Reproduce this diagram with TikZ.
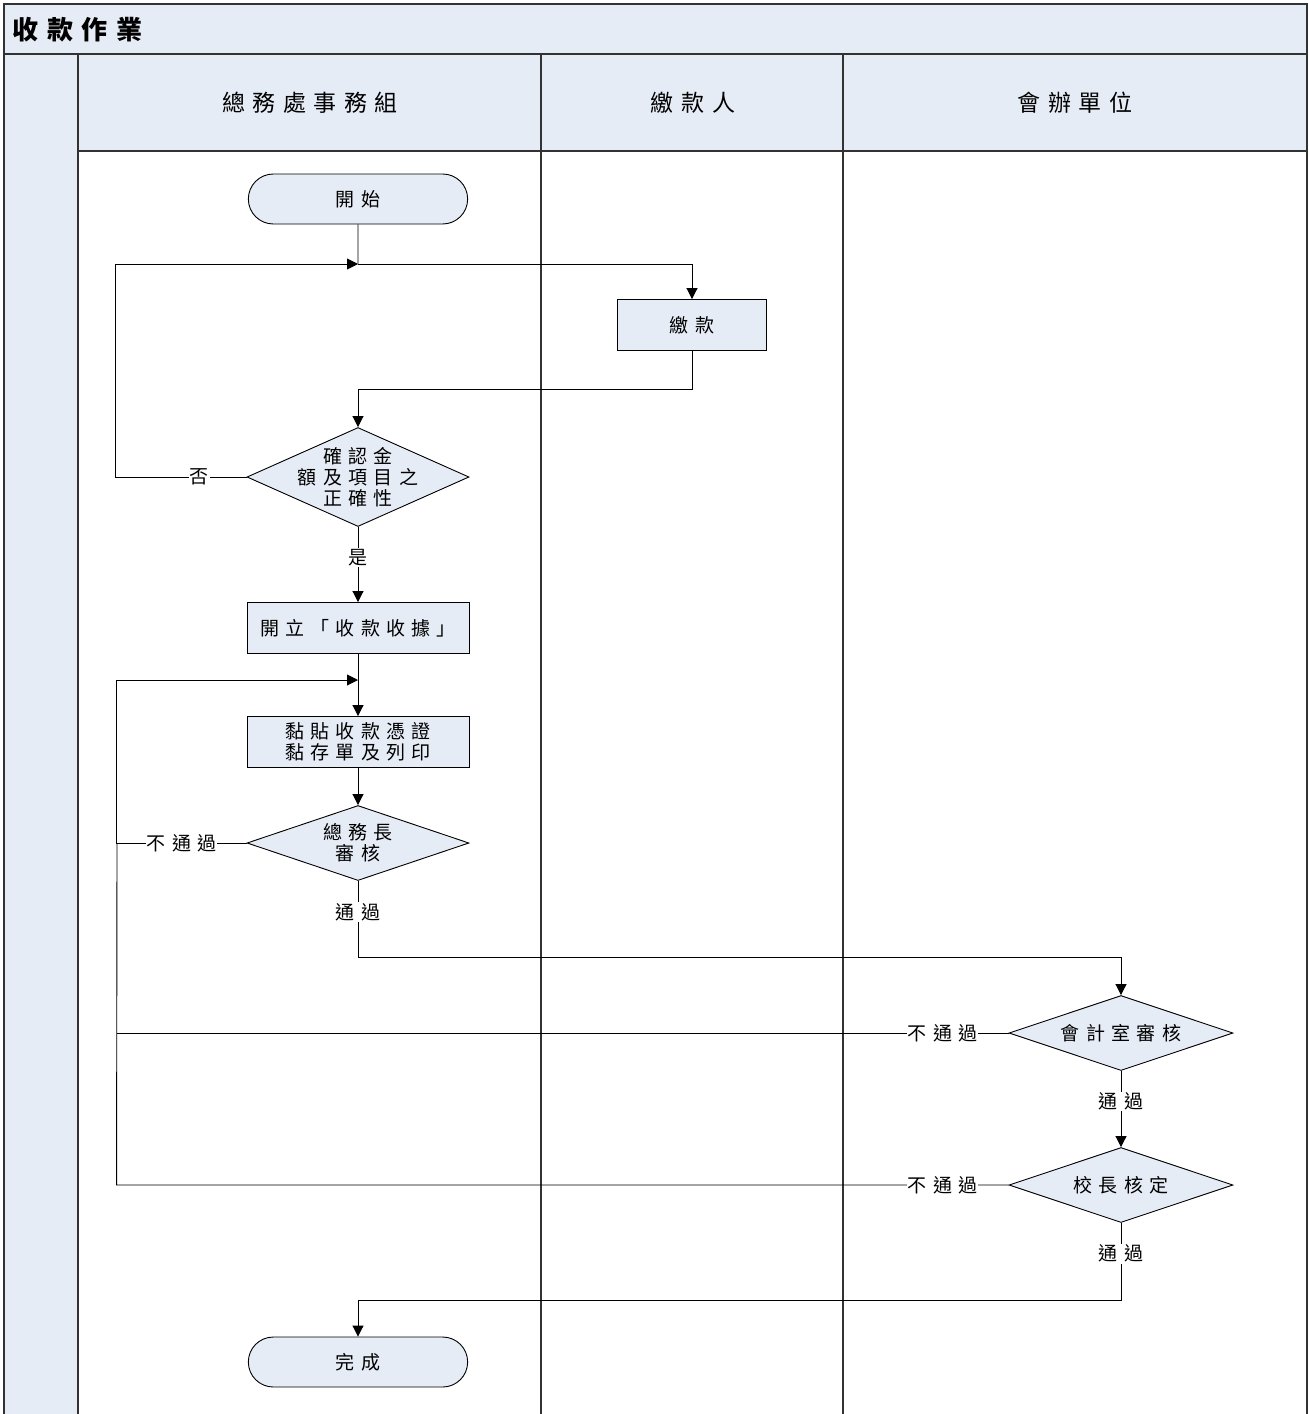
\documentclass[tikz,border=0pt]{standalone}
\usepackage{fontspec}
\setmainfont{Noto Sans CJK TC}
\newfontfamily\cjk[LetterSpace=33]{Noto Sans CJK TC}
\usetikzlibrary{shapes.geometric,shapes.misc,arrows.meta,positioning}

\definecolor{lanefill}{RGB}{230,236,246}
\definecolor{framecol}{RGB}{50,50,50}

\tikzset{
  frame/.style={draw=framecol, line width=1.2pt},
  nodefont/.style={font={\cjk\fontsize{19}{21}\selectfont}},
  lanehead/.style={font={\cjk\fontsize{23}{25}\selectfont}},
  titlefont/.style={font={\cjk\bfseries\fontsize{26}{28}\selectfont}},
  term/.style={rounded rectangle, draw, fill=lanefill, minimum width=226pt, minimum height=50pt, nodefont},
  procbox/.style={rectangle, draw, fill=lanefill, minimum width=222pt, minimum height=51pt, inner sep=2pt, align=center, nodefont},
  decision/.style={diamond, draw, fill=lanefill, minimum width=222pt, minimum height=99pt, inner sep=0pt},
  inside/.style={nodefont, align=center},
  lbl/.style={fill=white, inner sep=1pt, nodefont},
  flow/.style={-{Triangle[length=11pt,width=11pt]}},
}

\begin{document}
\begin{tikzpicture}[x=1pt,y=-1pt, line width=0.9pt]
\useasboundingbox (0,0) rectangle (1309,1414);

% Pool and lanes
\fill[lanefill] (4,4) rectangle (1307,54);
\fill[lanefill] (4,54) rectangle (78,1416);
\fill[lanefill] (78,54) rectangle (1307,151);
\draw[frame] (4,1416) -- (4,4) -- (1307,4) -- (1307,1416);
\draw[frame] (4,54) -- (1307,54);
\draw[frame] (78,151) -- (1307,151);
\foreach \x in {78,541,843}
    \draw[frame] (\x,54) -- (\x,1416);

\node[anchor=west, titlefont] (title) at (9,30) {收款作業};
\node[lanehead] (laneA) at (310,103) {總務處事務組};
\node[lanehead] (laneB) at (693,103) {繳款人};
\node[lanehead] (laneC) at (1075,103) {會辦單位};

% Steps
\node[term] (start) at (358,199) {開始};
\node[procbox, minimum width=149pt] (pay) at (692,325) {繳款};
\node[decision, label={[inside]center:確認金\\額及項目之\\正確性}] (check) at (358,477) {};
\node[procbox] (receipt) at (358,628) {開立「收款收據」};
\node[procbox] (paste) at (358,742) {黏貼收款憑證\\黏存單及列印};
\node[decision, minimum height=75pt, label={[inside]center:總務長\\審核}] (chief) at (358,843) {};
\node[decision, minimum width=224pt, minimum height=75pt, label={[inside]center:會計室審核}] (acct) at (1121,1033) {};
\node[decision, minimum width=224pt, minimum height=75pt, label={[inside]center:校長核定}] (principal) at (1121,1185) {};
\node[term] (done) at (358,1362) {完成};

\coordinate (joinA) at (358,264);
\coordinate (joinB) at (358,680);

% Connectors
\draw (start) -- (joinA);
\draw[flow] (joinA) -| (pay);
\draw[flow] (pay.south) -- ++(0,38) -| (check.north);
\draw[flow] (check.west) -- node[lbl, pos=0.36] {否} ++(-131,0) |- (joinA);
\draw[flow] (check.south) -- node[lbl, pos=0.41] {是} (receipt.north);
\draw (receipt.south) -- (joinB);
\draw[flow] (joinB) -- (paste.north);
\draw[flow] (paste.south) -- (chief.north);
\draw[flow] (chief.west) -- node[lbl] {不通過} ++(-130,0) |- (joinB);
\draw[flow] (chief.south) -- node[lbl, pos=0.41] {通過} ++(0,76) -| (acct.north);
\draw (acct.west) -- node[lbl, pos=0.074] {不通過} ++(-892,0);
\draw (principal.west) -- node[lbl, pos=0.074] {不通過} ++(-892,0) -- (117,843);
\draw[flow] (acct.south) -- node[lbl, pos=0.4] {通過} (principal.north);
\draw[flow] (principal.south) -- node[lbl, pos=0.4] {通過} ++(0,77) -| (done.north);

\end{tikzpicture}
\end{document}
